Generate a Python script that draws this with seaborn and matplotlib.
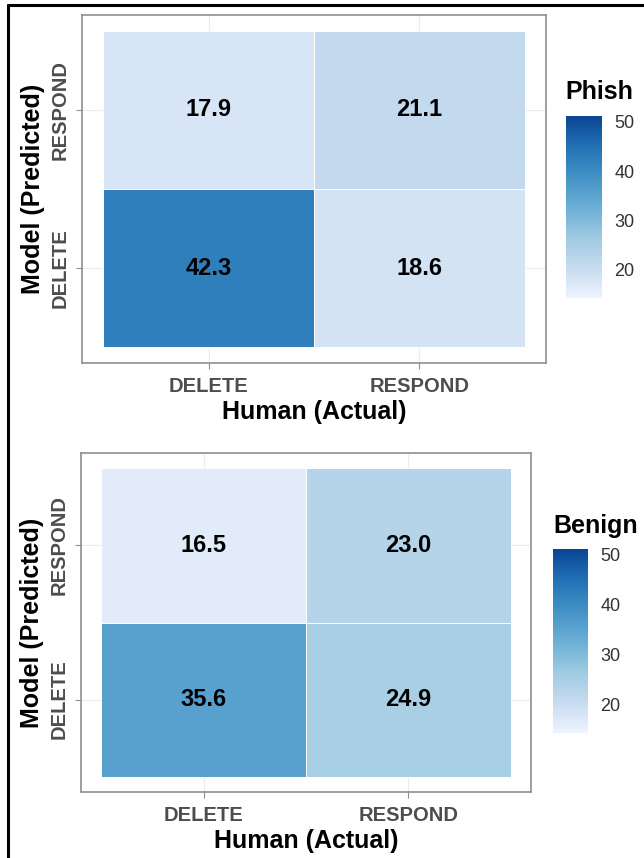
import numpy as np
import pandas as pd
import seaborn as sns
import matplotlib
matplotlib.use("Agg")
import matplotlib.pyplot as plt
from matplotlib.colors import LinearSegmentedColormap
from matplotlib.lines import Line2D

# ---- data ----
human_labels = ["DELETE", "RESPOND"]          # x (Human, Actual)
model_labels = ["RESPOND", "DELETE"]          # y (Model, Predicted), top to bottom
phish_respond = [17.9, 21.1]                  # Model RESPOND row
phish_delete = [42.3, 18.6]                   # Model DELETE row
benign_respond = [16.5, 23.0]
benign_delete = [35.6, 24.9]
cbar_ticks = [20, 30, 40, 50]
vmin, vmax = 14.3, 51.2

sns.set_style("white")
plt.rcParams["font.family"] = ["Liberation Sans", "DejaVu Sans"]

blues7 = ["#EFF3FF", "#C6DBEF", "#9ECAE1", "#6BAED6", "#4292C6", "#2171B5", "#084594"]
cmap = LinearSegmentedColormap.from_list("blues7", blues7)

fig = plt.figure(figsize=(6.44, 8.58), dpi=100)

W, H = 644, 858
def fr(x0, y0, x1, y1):
    return [x0 / W, 1 - y1 / H, (x1 - x0) / W, (y1 - y0) / H]

panels = [
    ("Phish", [phish_respond, phish_delete], fr(82, 15, 546, 363), fr(566, 116, 602, 298), (565, 92)),
    ("Benign", [benign_respond, benign_delete], fr(81, 453, 531, 792), fr(553, 549, 588, 733), (553, 526)),
]

grey_txt = "#4D4D4D"
for name, rows, axpos, cbpos, titlepos in panels:
    df = pd.DataFrame(rows, index=model_labels, columns=human_labels)
    ax = fig.add_axes(axpos)
    cax = fig.add_axes(cbpos)
    sns.heatmap(df, ax=ax, cbar_ax=cax, cmap=cmap, vmin=vmin, vmax=vmax,
                annot=True, fmt=".1f",
                annot_kws=dict(fontsize=17, fontweight="bold", color="black"),
                linewidths=0.5, linecolor="white",
                cbar_kws=dict(ticks=cbar_ticks))
    ax.set_xlim(-0.1, 2.1)
    ax.set_ylim(2.1, -0.1)
    ax.set_axisbelow(True)
    ax.grid(True, color="#EBEBEB", lw=0.8)
    for s in ax.spines.values():
        s.set_visible(True)
        s.set_color("#8F8F8F")
        s.set_linewidth(1.2)
    ax.tick_params(axis="both", which="major", length=4, width=0.8, color="#8F8F8F",
                   bottom=True, left=True)
    ax.tick_params(axis="x", pad=6)
    ax.tick_params(axis="y", pad=5)
    ax.set_xticklabels(human_labels, fontsize=14.5, fontweight="bold", color=grey_txt, rotation=0)
    ax.set_yticklabels(model_labels, fontsize=14.5, fontweight="bold", color=grey_txt,
                       rotation=90, va="center")
    ax.set_xlabel("Human (Actual)", fontsize=18, fontweight="bold", color="black", labelpad=3)
    ax.set_ylabel("Model (Predicted)", fontsize=18, fontweight="bold", color="black", labelpad=4)

    cb = ax.collections[0].colorbar
    cb.outline.set_visible(False)
    cax.yaxis.set_ticks_position("both")
    cax.tick_params(axis="y", direction="in", length=5, width=0.8, color="white",
                    labelsize=13, labelcolor="#333333", pad=9, labelleft=False, labelright=True)
    fig.text(titlepos[0] / W, 1 - titlepos[1] / H, name, fontsize=18, fontweight="bold",
             color="black", ha="left", va="center")

# outer frame lines (top and left)
fig.add_artist(Line2D([7.5 / W, 1.0], [1 - 5 / H, 1 - 5 / H], color="black", lw=2.2,
                      transform=fig.transFigure))
fig.add_artist(Line2D([7.5 / W, 7.5 / W], [0, 1 - 5 / H], color="black", lw=2.2,
                      transform=fig.transFigure))

fig.savefig("out.png", dpi=100, facecolor="white")
